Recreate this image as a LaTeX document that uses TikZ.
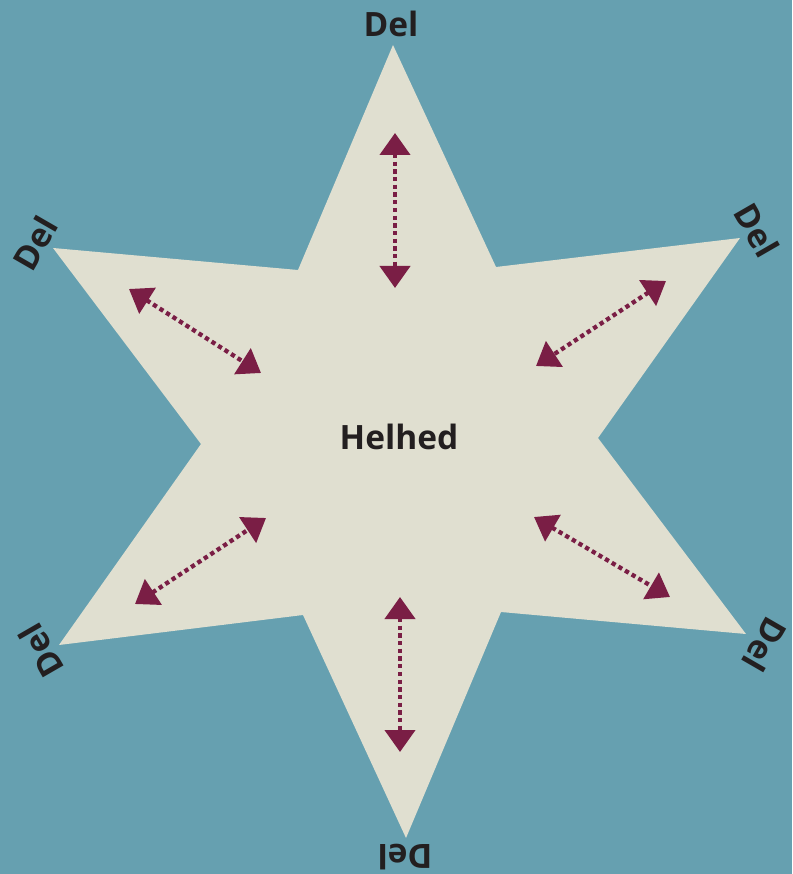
\documentclass[tikz,border=0pt]{standalone}
\usepackage{fontspec}
\setmainfont{Open Sans}
\usetikzlibrary{arrows.meta}
\definecolor{bgc}{HTML}{66A0B0}
\definecolor{starc}{HTML}{E0DFD0}
\definecolor{arrc}{HTML}{7A1E45}
\definecolor{txtc}{HTML}{231F20}
\tikzset{
  lbl/.style={font=\fontsize{33.5}{33.5}\selectfont\bfseries, text=txtc, inner sep=0pt},
  dblarrow/.style={draw=arrc, line width=4.3pt, dash pattern=on 4.3pt off 3.4pt,
    {Triangle[length=22pt,width=30pt,fill=arrc]}-{Triangle[length=22pt,width=30pt,fill=arrc]}}
}
\begin{document}
\begin{tikzpicture}[x=1pt,y=-1pt]
\useasboundingbox (0,0) rectangle (792,874);
\fill[bgc] (0,0) rectangle (792,874);
\fill[starc] (393,45) -- (496,267) -- (740,238) -- (598,438) -- (746,634) -- (501,612)
  -- (406,838) -- (303,615) -- (59,645) -- (201,444) -- (53,248) -- (298,270) -- cycle;
\node[lbl] (center) at (399,437) {Helhed};
\node[lbl] (dT) at (391,24) {Del};
\node[lbl, rotate=-60] (dUR) at (757,230) {Del};
\node[lbl, rotate=60] (dUL) at (35,243) {Del};
\node[lbl, rotate=120] (dLL) at (41,651) {Del};
\node[lbl, rotate=180] (dB) at (405,857) {Del};
\node[lbl, rotate=240] (dLR) at (765,645) {Del};
\coordinate (aT1) at (395,133); \coordinate (aT2) at (395,288);
\coordinate (aUR1) at (666,281); \coordinate (aUR2) at (536,366);
\coordinate (aUL1) at (129,289); \coordinate (aUL2) at (261,373);
\coordinate (aLL1) at (135,604); \coordinate (aLL2) at (266,518);
\coordinate (aB1) at (400,597); \coordinate (aB2) at (400,752);
\coordinate (aLR1) at (534,517); \coordinate (aLR2) at (670,597);
\draw[dblarrow] (aT1) -- (aT2);
\draw[dblarrow] (aUR1) -- (aUR2);
\draw[dblarrow] (aUL1) -- (aUL2);
\draw[dblarrow] (aLL1) -- (aLL2);
\draw[dblarrow] (aB1) -- (aB2);
\draw[dblarrow] (aLR1) -- (aLR2);
\end{tikzpicture}
\end{document}
